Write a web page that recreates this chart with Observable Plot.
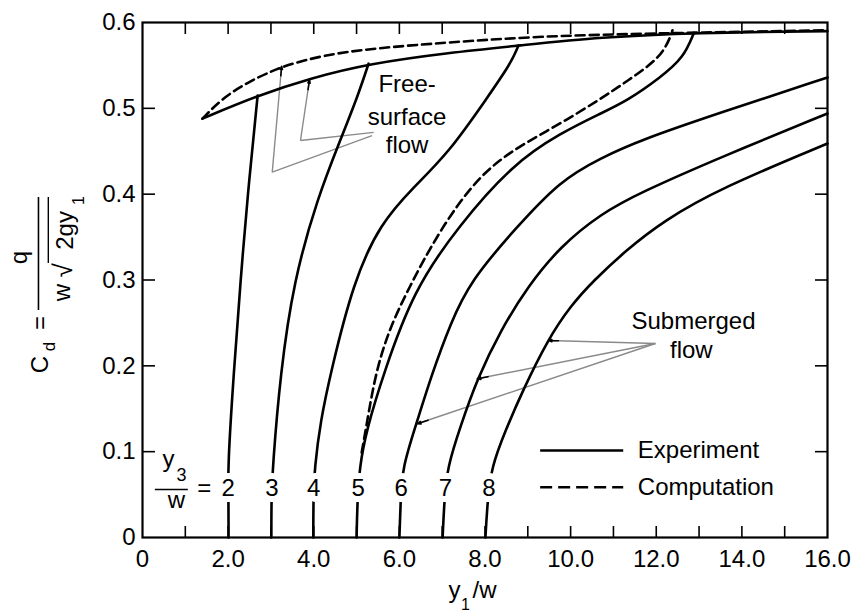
<!DOCTYPE html>
<html><head><meta charset="utf-8">
<script src="https://cdn.jsdelivr.net/npm/d3@7"></script>
<script src="https://cdn.jsdelivr.net/npm/@observablehq/plot@0.6"></script>
<style>body{margin:0;background:#fff}svg{display:block}</style>
</head><body><div id="chart"></div>
<script>
// ---- tick values ----
const yTicks = [0, 0.1, 0.2, 0.3, 0.4, 0.5, 0.6];
const xLabelTicks = [0, 2, 4, 6, 8, 10, 12, 14, 16];
const xMinorTicks = [1, 2, 3, 4, 5, 6, 7, 8, 9, 10, 11, 12, 13, 14, 15];

// ---- free-surface flow curves [y1/w, Cd] ----
const freeSurfaceExperiment = [[1.40,0.488],[2.69,0.515],[3.92,0.535],[5.28,0.552],[7.19,0.565],[8.78,0.573],[10.70,0.583],[12.92,0.588],[16.0,0.590]];
const freeSurfaceComputation = [[1.40,0.488],[1.89,0.513],[2.52,0.532],[3.25,0.549],[4.23,0.562],[5.40,0.570],[7.19,0.577],[9.30,0.584],[11.63,0.587],[16.0,0.591]];

// ---- submerged flow curves, one per y3/w ----
const tailwaterRatios = [2, 3, 4, 5, 6, 7, 8];
const submerged2 = [[2.01,0],[2.01,0.043],[1.99,0.082],[2.13,0.191],[2.29,0.299],[2.45,0.396],[2.69,0.515]];
const submerged3 = [[3.01,0],[3.01,0.043],[3.04,0.082],[3.22,0.191],[3.53,0.299],[4.09,0.396],[4.62,0.463],[5.02,0.513],[5.28,0.552]];
const submerged4 = [[3.99,0],[3.99,0.043],[4.02,0.082],[4.16,0.136],[4.39,0.191],[4.93,0.299],[5.56,0.366],[6.31,0.407],[7.15,0.448],[8.06,0.513],[8.60,0.552],[8.78,0.573]];
const submerged5 = [[5.00,0],[5.02,0.043],[5.07,0.082],[5.23,0.125],[5.63,0.191],[6.33,0.288],[7.38,0.363],[8.67,0.436],[9.76,0.471],[10.70,0.494],[11.33,0.509],[12.10,0.536],[12.64,0.559],[12.88,0.588]];
const computed5 = [[5.12,0.099],[5.23,0.130],[5.44,0.191],[5.75,0.241],[6.19,0.288],[6.96,0.360],[7.89,0.424],[8.83,0.457],[9.76,0.482],[10.70,0.511],[11.33,0.532],[12.10,0.559],[12.33,0.583],[12.38,0.591]];
const submerged6 = [[6.00,0],[6.03,0.043],[6.07,0.082],[6.40,0.133],[6.75,0.189],[7.19,0.249],[7.66,0.299],[8.71,0.360],[9.76,0.416],[10.70,0.442],[11.63,0.463],[13.50,0.495],[16.0,0.536]];
const submerged7 = [[7.01,0],[7.05,0.043],[7.12,0.082],[7.43,0.130],[7.82,0.185],[8.36,0.241],[9.02,0.294],[9.76,0.339],[10.70,0.377],[11.63,0.402],[13.50,0.443],[16.0,0.494]];
const submerged8 = [[8.01,0],[8.06,0.043],[8.15,0.082],[8.48,0.125],[8.88,0.171],[9.46,0.230],[10.00,0.270],[10.53,0.299],[11.28,0.334],[12.17,0.369],[13.50,0.407],[16.0,0.459]];

// ---- build tables ----
const experimentSeries = [
  ["free", freeSurfaceExperiment],
  ["2", submerged2], ["3", submerged3], ["4", submerged4], ["5", submerged5],
  ["6", submerged6], ["7", submerged7], ["8", submerged8]
];
const computationSeries = [["free", freeSurfaceComputation], ["5", computed5]];
const toRows = (list) => list.flatMap(([s, pts]) => pts.map(([x, y]) => ({series: s, x, y})));
const expRows = toRows(experimentSeries);
const compRows = toRows(computationSeries);

const subCurves = [submerged2, submerged3, submerged4, submerged5, submerged6, submerged7, submerged8];
const labelLevel = 0.057;
function xAt(pts, yv) {
  for (let i = 1; i < pts.length; i++) {
    const [x0, y0] = pts[i-1], [x1, y1] = pts[i];
    if (yv >= y0 && yv <= y1) return x0 + (x1 - x0) * (yv - y0) / (y1 - y0);
  }
  return pts[0][0];
}
const curveLabelRows = tailwaterRatios.map((r, i) => ({x: xAt(subCurves[i], labelLevel), y: labelLevel, t: String(r)}));

const FONT = "'Liberation Sans', Arial, Helvetica, sans-serif";
const fmt = d => d === 0 ? "0" : d.toFixed(1);

// arrow tips (short black segment) along leader lines
function tipSeg(from, to, f) {
  return {x1: to[0] + (from[0] - to[0]) * f, y1: to[1] + (from[1] - to[1]) * f, x2: to[0], y2: to[1]};
}
const A0 = [5.40, 0.472], A1 = [3.69, 0.4625], A2 = [3.90, 0.533];
const B0 = [5.36, 0.4683], B1 = [3.03, 0.4256], B2 = [3.25, 0.549];
const S0 = [11.98, 0.226];
const T1 = [9.49, 0.2295], T2 = [7.82, 0.1849], T3 = [6.42, 0.1325];
const leaderPaths = [
  {x1: A0[0], y1: A0[1], x2: A1[0], y2: A1[1]}, {x1: A1[0], y1: A1[1], x2: A2[0], y2: A2[1]},
  {x1: B0[0], y1: B0[1], x2: B1[0], y2: B1[1]}, {x1: B1[0], y1: B1[1], x2: B2[0], y2: B2[1]},
  {x1: S0[0], y1: S0[1], x2: T1[0], y2: T1[1]},
  {x1: S0[0], y1: S0[1], x2: T2[0], y2: T2[1]},
  {x1: S0[0], y1: S0[1], x2: T3[0], y2: T3[1]}
];
const tips = [tipSeg(A1, A2, 0.16), tipSeg(B1, B2, 0.09), tipSeg(S0, T1, 0.09), tipSeg(S0, T2, 0.06), tipSeg(S0, T3, 0.045)];

const T = (x, y, t) => ({x, y, t});

const chart = Plot.plot({
  width: 859, height: 615,
  marginTop: 22, marginRight: 32, marginBottom: 78, marginLeft: 142,
  x: {domain: [0, 16], axis: null},
  y: {domain: [0, 0.6], axis: null},
  style: {fontFamily: FONT, background: "white", color: "black"},
  marks: [
    // inward ticks
    Plot.axisY(yTicks.slice(1, 6), {anchor: "left", tickSize: 13, dx: 13, tickFormat: () => "", label: null, strokeWidth: 1.6}),
    Plot.axisY(yTicks.slice(1, 6), {anchor: "right", tickSize: 13, dx: -13, tickFormat: () => "", label: null, strokeWidth: 1.6}),
    Plot.axisX(xMinorTicks, {anchor: "top", tickSize: 11, dy: 11, tickFormat: () => "", label: null, strokeWidth: 1.6}),
    Plot.axisX(xMinorTicks, {anchor: "bottom", tickSize: 11, dy: -11, tickFormat: () => "", label: null, strokeWidth: 1.6}),
    // tick labels
    Plot.axisY(yTicks, {anchor: "left", tickSize: 0, tickPadding: 7, tickFormat: fmt, label: null, fontSize: 24}),
    Plot.axisX(xLabelTicks, {anchor: "bottom", tickSize: 0, tickPadding: 12, tickFormat: fmt, label: null, fontSize: 24}),
    Plot.frame({strokeWidth: 2.2}),
    // leader lines
    Plot.link(leaderPaths, {x1: "x1", y1: "y1", x2: "x2", y2: "y2", stroke: "#8a8a8a", strokeWidth: 1.4}),
    Plot.arrow(tips, {x1: "x1", y1: "y1", x2: "x2", y2: "y2", stroke: "black", strokeWidth: 1.6, headLength: 7, headAngle: 40}),
    // curves
    Plot.line(expRows, {x: "x", y: "y", z: "series", curve: "basis", stroke: "black", strokeWidth: 2.6}),
    Plot.line(compRows, {x: "x", y: "y", z: "series", curve: "basis", stroke: "black", strokeWidth: 2.6, strokeDasharray: "9,5"}),
    // curve labels with white halo (breaks lines)
    Plot.text(curveLabelRows, {x: "x", y: "y", text: "t", fontSize: 24, stroke: "white", strokeWidth: 12, paintOrder: "stroke", fill: "black"}),
    // y3/w = label
    Plot.text([T(0.61, 0.091, "y")], {x: "x", y: "y", text: "t", fontSize: 24}),
    Plot.text([T(0.91, 0.072, "3")], {x: "x", y: "y", text: "t", fontSize: 18}),
    Plot.ruleY([0.0559], {x1: 0.3, x2: 1.07, stroke: "black", strokeWidth: 1.6}),
    Plot.text([T(0.79, 0.043, "w")], {x: "x", y: "y", text: "t", fontSize: 24}),
    Plot.text([T(1.44, 0.057, "=")], {x: "x", y: "y", text: "t", fontSize: 24}),
    // annotations
    Plot.text([T(6.18, 0.528, "Free-"), T(6.18, 0.490, "surface"), T(6.18, 0.457, "flow")], {x: "x", y: "y", text: "t", fontSize: 24}),
    Plot.text([T(12.87, 0.2522, "Submerged"), T(12.82, 0.2179, "flow")], {x: "x", y: "y", text: "t", fontSize: 24}),
    // legend
    Plot.ruleY([0.1014], {x1: 9.3, x2: 11.24, stroke: "black", strokeWidth: 2.6}),
    Plot.ruleY([0.0586], {x1: 9.3, x2: 11.24, stroke: "black", strokeWidth: 2.6, strokeDasharray: "12,6"}),
    Plot.text([T(11.57, 0.101, "Experiment"), T(11.57, 0.058, "Computation")], {x: "x", y: "y", text: "t", fontSize: 24, textAnchor: "start"}),
    // x-axis title
    Plot.text([T(7.29, -0.062, "y")], {x: "x", y: "y", text: "t", fontSize: 24}),
    Plot.text([T(7.545, -0.078, "1")], {x: "x", y: "y", text: "t", fontSize: 16}),
    Plot.text([T(7.71, -0.062, "/w")], {x: "x", y: "y", text: "t", fontSize: 24, textAnchor: "start"}),
    // y-axis title (rotated)
    Plot.text([T(-2.383, 0.2016, "C")], {x: "x", y: "y", text: "t", fontSize: 24, rotate: -90}),
    Plot.text([T(-2.17, 0.2225, "d")], {x: "x", y: "y", text: "t", fontSize: 17, rotate: -90}),
    Plot.text([T(-2.383, 0.250, "=")], {x: "x", y: "y", text: "t", fontSize: 24, rotate: -90}),
    Plot.ruleX([-2.43], {y1: 0.2645, y2: 0.3961, stroke: "black", strokeWidth: 1.6}),
    Plot.text([T(-2.87, 0.3262, "q")], {x: "x", y: "y", text: "t", fontSize: 24, rotate: -90}),
    Plot.text([T(-1.88, 0.2854, "w")], {x: "x", y: "y", text: "t", fontSize: 24, rotate: -90}),
    Plot.text([T(-1.84, 0.3111, "√")], {x: "x", y: "y", text: "t", fontSize: 26, rotate: -90}),
    Plot.ruleX([-2.2], {y1: 0.3192, y2: 0.3961, stroke: "black", strokeWidth: 1.4}),
    Plot.text([T(-1.81, 0.3577, "2gy")], {x: "x", y: "y", text: "t", fontSize: 24, rotate: -90}),
    Plot.text([T(-1.495, 0.3926, "1")], {x: "x", y: "y", text: "t", fontSize: 16, rotate: -90})
  ]
});
document.getElementById("chart").appendChild(chart);
</script></body></html>
